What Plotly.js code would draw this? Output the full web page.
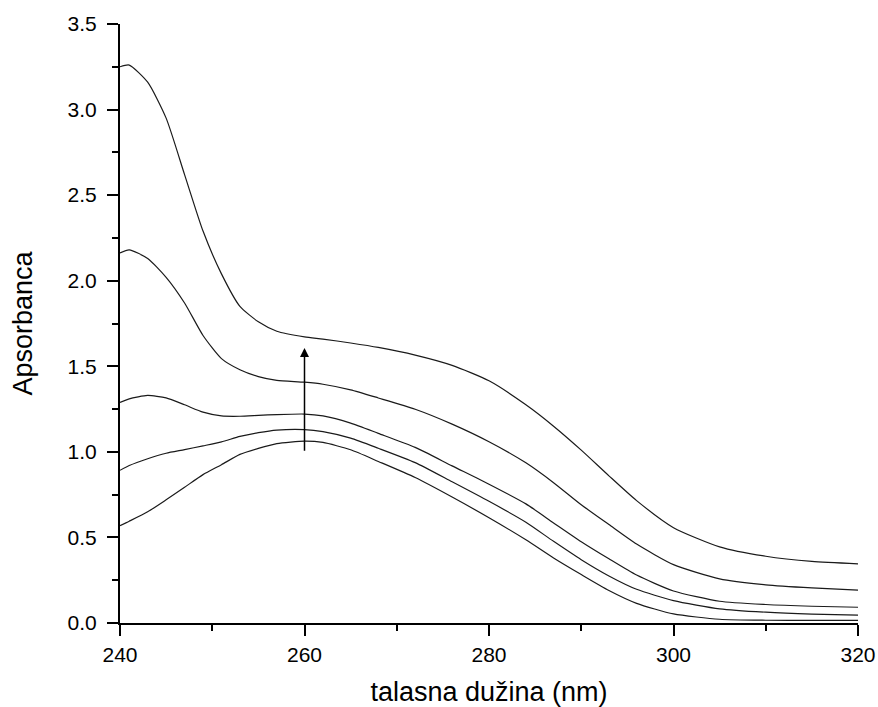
<!DOCTYPE html>
<html>
<head>
<meta charset="utf-8">
<script src="https://cdn.plot.ly/plotly-3.0.1.min.js"></script>
<style>html,body{margin:0;padding:0;background:#fff;}#chart{width:878px;height:707px;}</style>
</head>
<body>
<div id="chart"></div>
<script>
const wavelength = [240,241,243,245,247,249,251,253,255,257,260,262,265,268,272,276,280,284,287,290,293,296,300,305,310,315,320];
const series1 = [3.25,3.26,3.16,2.95,2.62,2.29,2.04,1.85,1.76,1.705,1.672,1.659,1.636,1.61,1.565,1.505,1.415,1.275,1.15,1.01,0.86,0.715,0.557,0.445,0.39,0.36,0.346];
const series2 = [2.162,2.18,2.13,2.02,1.87,1.68,1.545,1.48,1.44,1.418,1.407,1.395,1.362,1.315,1.249,1.162,1.059,0.936,0.82,0.691,0.575,0.461,0.341,0.258,0.223,0.205,0.192];
const series3 = [1.289,1.31,1.33,1.315,1.275,1.232,1.21,1.208,1.213,1.218,1.221,1.21,1.168,1.108,1.026,0.918,0.811,0.696,0.585,0.475,0.375,0.28,0.187,0.127,0.108,0.098,0.092];
const series4 = [0.892,0.92,0.96,0.992,1.013,1.035,1.058,1.09,1.112,1.127,1.13,1.118,1.08,1.021,0.937,0.825,0.711,0.589,0.477,0.37,0.275,0.197,0.131,0.083,0.063,0.052,0.046];
const series5 = [0.569,0.595,0.65,0.72,0.793,0.867,0.925,0.985,1.02,1.048,1.063,1.055,1.012,0.944,0.85,0.736,0.615,0.486,0.38,0.283,0.19,0.115,0.053,0.022,0.016,0.015,0.015];
const arrowX = 260, arrowFrom = 0.997, arrowTo = 1.607;
const xTitle = "talasna dužina (nm)";
const yTitle = "Apsorbanca";

const font = "Liberation Sans, Arial, sans-serif";
const traces = [series1, series2, series3, series4, series5].map(s => ({
  x: wavelength, y: s, type: 'scatter', mode: 'lines',
  line: {color: '#1a1a1a', width: 1.2, shape: 'spline', smoothing: 0.6},
  hoverinfo: 'skip', showlegend: false
}));

const layout = {
  width: 878, height: 707,
  margin: {l: 120, r: 20, t: 24, b: 83.5},
  paper_bgcolor: '#fff', plot_bgcolor: '#fff',
  font: {family: font, color: '#000', size: 21},
  showlegend: false,
  xaxis: {
    range: [240, 320], dtick: 20, tick0: 240,
    showgrid: false, zeroline: false,
    showline: true, linecolor: '#000', linewidth: 2,
    ticks: 'outside', ticklen: 11, tickwidth: 2, tickcolor: '#000',
    ticklabelstandoff: 1,
    minor: {dtick: 10, ticks: 'outside', ticklen: 6, tickwidth: 2, tickcolor: '#000', showgrid: false},
    tickfont: {family: font, size: 21, color: '#000'},
    title: {text: xTitle, font: {family: font, size: 27, color: '#000'}, standoff: 26}
  },
  yaxis: {
    range: [0, 3.5], dtick: 0.5, tick0: 0, tickformat: '.1f',
    showgrid: false, zeroline: false,
    showline: true, linecolor: '#000', linewidth: 2,
    ticks: 'outside', ticklen: 11, tickwidth: 2, tickcolor: '#000',
    ticklabelstandoff: 6,
    minor: {dtick: 0.25, ticks: 'outside', ticklen: 6, tickwidth: 2, tickcolor: '#000', showgrid: false},
    tickfont: {family: font, size: 21, color: '#000'},
    title: {text: yTitle, font: {family: font, size: 27, color: '#000'}, standoff: 27}
  },
  annotations: [{
    x: arrowX, y: arrowTo, ax: arrowX, ay: arrowFrom,
    xref: 'x', yref: 'y', axref: 'x', ayref: 'y',
    showarrow: true, arrowhead: 2, arrowsize: 1.2, arrowwidth: 1.5, arrowcolor: '#000', text: ''
  }]
};

Plotly.newPlot('chart', traces, layout, {displayModeBar: false, staticPlot: true});
</script>
</body>
</html>
